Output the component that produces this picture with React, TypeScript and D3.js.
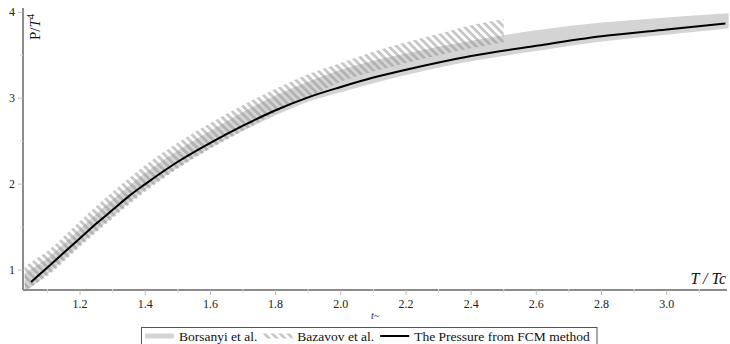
import React, { useRef, useEffect } from 'react';
import * as d3 from 'd3';

// FCM pressure curve
const fcmT = [1.05, 1.1, 1.15, 1.2, 1.25, 1.3, 1.35, 1.4, 1.5, 1.6, 1.7, 1.8, 1.9, 2.0, 2.1, 2.2, 2.4, 2.6, 2.8, 3.0, 3.18];
const fcmP = [0.86, 1.03, 1.2, 1.37, 1.54, 1.7, 1.86, 2.0, 2.26, 2.48, 2.68, 2.86, 3.01, 3.13, 3.24, 3.33, 3.49, 3.61, 3.72, 3.8, 3.87];

// Borsanyi et al. band
const borT = [1.03, 1.1, 1.2, 1.3, 1.4, 1.5, 1.6, 1.7, 1.8, 1.9, 2.0, 2.2, 2.4, 2.6, 2.8, 3.0, 3.19];
const borLow = [0.74, 0.95, 1.29, 1.62, 1.93, 2.19, 2.42, 2.62, 2.8, 2.96, 3.07, 3.27, 3.43, 3.55, 3.66, 3.74, 3.81];
const borHigh = [0.96, 1.14, 1.48, 1.82, 2.13, 2.39, 2.62, 2.84, 3.03, 3.19, 3.33, 3.52, 3.67, 3.79, 3.88, 3.94, 3.99];

// Bazavov et al. band
const bazT = [1.03, 1.1, 1.2, 1.3, 1.4, 1.5, 1.6, 1.7, 1.8, 1.9, 2.0, 2.1, 2.2, 2.3, 2.4, 2.5];
const bazLow = [0.76, 0.93, 1.27, 1.6, 1.91, 2.18, 2.41, 2.62, 2.83, 3.01, 3.19, 3.31, 3.41, 3.5, 3.58, 3.65];
const bazHigh = [1.04, 1.22, 1.57, 1.91, 2.22, 2.48, 2.71, 2.92, 3.11, 3.28, 3.41, 3.54, 3.65, 3.75, 3.85, 3.92];

const xTicks = [1.2, 1.4, 1.6, 1.8, 2.0, 2.2, 2.4, 2.6, 2.8, 3.0];
const xMinor = [1.1, 1.3, 1.5, 1.7, 1.9, 2.1, 2.3, 2.5, 2.7, 2.9, 3.1];
const yTicks = [1, 2, 3, 4];
const yMinor = [1.5, 2.5, 3.5];
const legendLabels = ['Borsanyi et al.', 'Bazavov et al.', 'The Pressure from FCM method'];

const App: React.FC = () => {
    const svgRef = useRef<SVGSVGElement | null>(null);
    const width = 730;
    const height = 344;
    const font = '"Liberation Serif", "Times New Roman", serif';

    useEffect(() => {
        if (!svgRef.current) return;
        document.body.style.margin = '0';
        const svg = d3.select(svgRef.current);
        svg.selectAll('*').remove();

        const x = d3.scaleLinear().domain([1.025, 3.185]).range([23, 727]);
        const y = d3.scaleLinear().domain([0.767, 4.05]).range([290, 8]);
        const axisColor = '#8c8c8c';

        const defs = svg.append('defs');
        defs.append('pattern')
            .attr('id', 'hatch')
            .attr('patternUnits', 'userSpaceOnUse')
            .attr('width', 5.6)
            .attr('height', 5.6)
            .attr('patternTransform', 'rotate(-45)')
            .append('rect')
            .attr('width', 2.8)
            .attr('height', 5.6)
            .attr('fill', '#8f8f8f')
            .attr('fill-opacity', 0.5);

        const band = d3.area<number>()
            .curve(d3.curveMonotoneX);

        // Borsanyi band
        band.x((_, i) => x(borT[i])).y0((_, i) => y(borLow[i])).y1((_, i) => y(borHigh[i]));
        svg.append('path')
            .datum(borT)
            .attr('d', band)
            .attr('fill', '#d4d4d4');

        // Bazavov hatched band
        band.x((_, i) => x(bazT[i])).y0((_, i) => y(bazLow[i])).y1((_, i) => y(bazHigh[i]));
        svg.append('path')
            .datum(bazT)
            .attr('d', band)
            .attr('fill', 'url(#hatch)');

        // FCM line
        const line = d3.line<number>()
            .x((_, i) => x(fcmT[i]))
            .y((_, i) => y(fcmP[i]))
            .curve(d3.curveMonotoneX);
        svg.append('path')
            .datum(fcmT)
            .attr('d', line)
            .attr('fill', 'none')
            .attr('stroke', '#000')
            .attr('stroke-width', 2);

        // axes
        const [x0, x1] = x.range();
        const yAxisY = y.range()[0];
        svg.append('line')
            .attr('x1', x0).attr('x2', x1)
            .attr('y1', yAxisY).attr('y2', yAxisY)
            .attr('stroke', axisColor).attr('stroke-width', 2);
        svg.append('line')
            .attr('x1', x0).attr('x2', x0)
            .attr('y1', y.range()[1]).attr('y2', yAxisY)
            .attr('stroke', axisColor).attr('stroke-width', 2);

        xTicks.forEach(t => {
            svg.append('line')
                .attr('x1', x(t)).attr('x2', x(t))
                .attr('y1', yAxisY).attr('y2', yAxisY + 5)
                .attr('stroke', '#bbb');
            svg.append('text')
                .attr('x', x(t)).attr('y', yAxisY + 18)
                .attr('text-anchor', 'middle')
                .attr('font-family', font).attr('font-size', 12)
                .attr('fill', '#222')
                .text(t.toFixed(1));
        });
        xMinor.forEach(t => {
            svg.append('line')
                .attr('x1', x(t)).attr('x2', x(t))
                .attr('y1', yAxisY - 1).attr('y2', yAxisY + 3)
                .attr('stroke', '#d8d8d8');
        });
        yTicks.forEach(t => {
            svg.append('line')
                .attr('x1', x0 - 5).attr('x2', x0)
                .attr('y1', y(t)).attr('y2', y(t))
                .attr('stroke', '#bbb');
            svg.append('text')
                .attr('x', x0 - 11).attr('y', y(t) + 4)
                .attr('text-anchor', 'middle')
                .attr('font-family', font).attr('font-size', 12)
                .attr('fill', '#222')
                .text(String(t));
        });
        yMinor.forEach(t => {
            svg.append('line')
                .attr('x1', x0 - 3).attr('x2', x0)
                .attr('y1', y(t)).attr('y2', y(t))
                .attr('stroke', '#d8d8d8');
        });

        // axis labels
        const yl = svg.append('text')
            .attr('transform', `translate(${x0 + 17},40) rotate(-90)`)
            .attr('font-family', font).attr('font-size', 15)
            .attr('fill', '#111');
        yl.append('tspan').text('P/');
        yl.append('tspan').attr('font-style', 'italic').text('T');
        yl.append('tspan').attr('font-size', 11).attr('dy', -6).text('4');

        svg.append('text')
            .attr('x', x1 - 1).attr('y', yAxisY - 6)
            .attr('text-anchor', 'end')
            .attr('font-family', font).attr('font-size', 16)
            .attr('font-style', 'italic')
            .attr('fill', '#111')
            .text('T / Tc');

        svg.append('text')
            .attr('x', (x0 + x1) / 2).attr('y', 319)
            .attr('text-anchor', 'middle')
            .attr('font-family', font).attr('font-size', 10)
            .attr('font-style', 'italic')
            .attr('fill', '#222')
            .text('t~');

        // legend
        const lg = svg.append('g');
        const ly = 336;
        let cx = 145;
        const sample = 29;
        legendLabels.forEach((label, i) => {
            if (i === 0) {
                lg.append('line').attr('x1', cx).attr('x2', cx + sample).attr('y1', ly).attr('y2', ly)
                    .attr('stroke', '#d4d4d4').attr('stroke-width', 5);
            } else if (i === 1) {
                lg.append('rect').attr('x', cx).attr('y', ly - 2.5).attr('width', sample).attr('height', 5)
                    .attr('fill', 'url(#hatch)');
            } else {
                lg.append('line').attr('x1', cx).attr('x2', cx + sample).attr('y1', ly).attr('y2', ly)
                    .attr('stroke', '#000').attr('stroke-width', 2);
            }
            cx += sample + 5;
            const tx = lg.append('text')
                .attr('x', cx).attr('y', ly + 5)
                .attr('font-family', font).attr('font-size', 13.5)
                .attr('fill', '#111')
                .text(label);
            const w = (tx.node() as SVGTextElement).getComputedTextLength();
            cx += w + 6;
        });
        lg.insert('rect', ':first-child')
            .attr('x', 141.5).attr('y', 327.5)
            .attr('width', Math.max(cx, 597) - 141.5).attr('height', 30)
            .attr('fill', '#fff')
            .attr('stroke', '#555');
    }, []);

    return <svg ref={svgRef} width={width} height={height} style={{ display: 'block' }}></svg>;
};

export default App;
